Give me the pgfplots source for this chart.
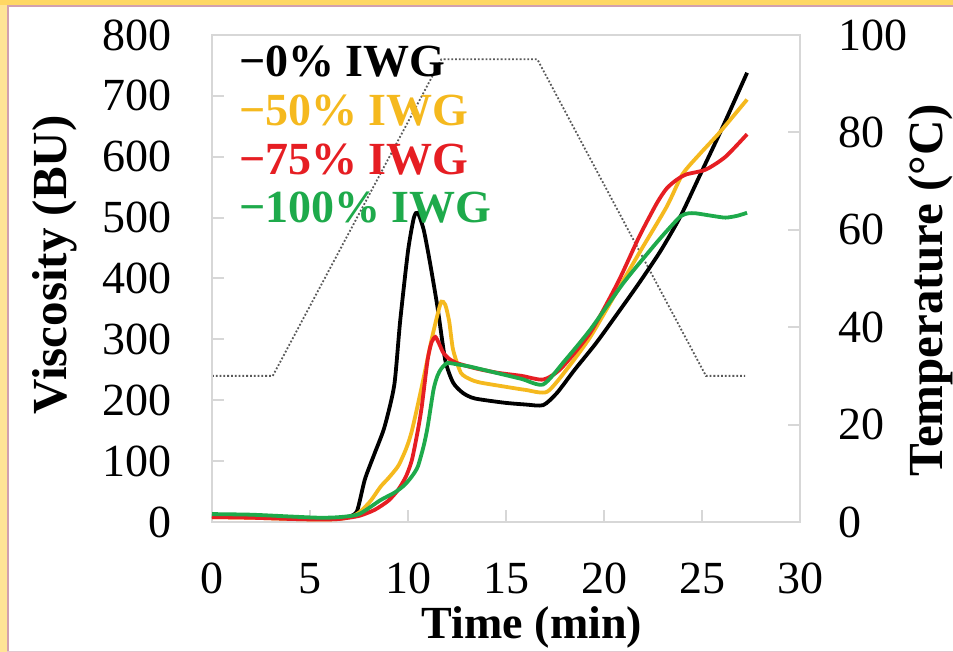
\documentclass[border=0pt]{standalone}
\usepackage{pgfplots}
\pgfplotsset{compat=1.18}
\usepackage{fontspec}
\setmainfont{Liberation Serif}
\definecolor{cblack}{RGB}{0,0,0}
\definecolor{cyellow}{RGB}{245,185,30}
\definecolor{cred}{RGB}{230,30,35}
\definecolor{cgreen}{RGB}{30,170,75}
\definecolor{frame}{RGB}{215,215,215}
\definecolor{goldA}{RGB}{255,215,100}
\definecolor{goldB}{RGB}{255,228,150}
\definecolor{pinkl}{RGB}{210,160,175}
\begin{document}
\begin{tikzpicture}
\useasboundingbox (0,0) rectangle (476.5pt,326pt);
\fill[white] (0,0) rectangle (476.5pt,326pt);
% frame strips
\fill[goldB] (0,0) rectangle (3.5pt,326pt);
\fill[goldA] (0,323.5pt) rectangle (476.5pt,326pt);
\fill[pinkl] (3.5pt,0) rectangle (4.6pt,323.5pt);
\fill[pinkl] (3.5pt,322.4pt) rectangle (476.5pt,323.5pt);
\fill[pinkl!60] (3.5pt,0) rectangle (476.5pt,0.7pt);
\pgfplotsset{
  every axis/.append style={
    scale only axis, width=294pt, height=243.5pt,
    at={(106pt,65pt)}, anchor=south west,
    xmin=0, xmax=30,
    axis line style={draw=frame, line width=1pt},
    tick style={draw=frame, line width=1pt},
    major tick length=6pt, tick align=inside,
    ticklabel style={font=\fontsize{23}{27}\selectfont},
    /pgf/number format/assume math mode=true,
    /pgf/number format/1000 sep={},
  }
}
% temperature axis
\begin{axis}[
  axis x line=none,
  axis y line*=right,
  ymin=0, ymax=100,
  ytick={0,20,40,60,80,100},
  yticklabel style={anchor=west, inner sep=0pt, xshift=19pt},
  ylabel={\fontsize{24.5}{28}\bfseries Temperature (°C)},
  ylabel style={at={(axis description cs:1.222,0.476)}, anchor=center},
]
\addplot[densely dotted, line width=0.9pt, black!65] coordinates {
(0,30)(3.1,30)(11.7,95)(16.6,95)(25.2,30)(27.2,30)};
\end{axis}
% viscosity axis
\begin{axis}[
  ymin=0, ymax=800,
  ytick={0,100,...,800},
  xtick={0,5,...,30},
  ytick pos=left, xtick pos=bottom,
  yticklabel style={anchor=east, inner sep=0pt, xshift=-20pt},
  xticklabel style={anchor=north, inner sep=0pt, yshift=-20.5pt},
  xlabel={\fontsize{23}{27}\bfseries Time (min)},
  xlabel style={at={(axis description cs:0.5,0)}, anchor=north, inner sep=0pt, yshift=-42pt, xshift=13pt},
  ylabel={\fontsize{24.5}{28}\bfseries Viscosity (BU)},
  ylabel style={at={(axis description cs:-0.267,0.528)}, anchor=center},
  legend image code/.code={},
  legend cell align=left,
  legend style={at={(0.046,0.9795)}, anchor=north west, draw=none, fill=none,
    inner sep=0pt, outer sep=0pt, row sep=8.3pt, column sep=0pt,
    nodes={inner sep=0pt, text height=16pt, text depth=0pt, font=\fontsize{23}{27}\bfseries}},
]
\addplot[cblack, line width=1.9pt, smooth, tension=0.4] coordinates {
(0,10)(2,9)(4,7)(5.5,5)(6.5,6)(7.0,9)(7.4,18)(7.8,70)(8.3,113)(8.8,156)(9.3,225)(9.6,330)(10.0,445)(10.3,500)(10.5,508)(10.8,480)(11.1,430)(11.5,354)(11.9,266)(12.3,229)(12.8,212)(13.4,203)(14.9,196)(16.0,193)(16.9,192)(17.6,212)(18.5,250)(19.6,294)(20.7,343)(21.8,393)(22.9,446)(23.9,502)(24.9,570)(26.0,645)(27.3,738)};
\addlegendentry{\textcolor{cblack}{−0\% IWG}}
\addplot[cyellow, line width=1.9pt, smooth, tension=0.4] coordinates {
(0,8)(2,7)(4,5)(5.5,4)(6.5,5)(7.2,10)(7.6,18)(8.1,35)(8.6,58)(9.0,72)(9.5,92)(9.9,120)(10.2,150)(10.7,222)(11.2,299)(11.5,340)(11.7,362)(11.9,357)(12.1,330)(12.3,283)(12.7,245)(13.2,234)(13.7,229)(15.0,222)(16.0,217)(17.1,214)(18.2,255)(19.3,304)(20.5,370)(21.8,442)(23.2,518)(24.0,571)(24.9,605)(25.9,640)(27.3,694)};
\addlegendentry{\textcolor{cyellow}{−50\% IWG}}
\addplot[cred, line width=1.9pt, smooth, tension=0.4] coordinates {
(0,8)(2,7)(4,5)(5.5,4)(6.5,5)(7.5,10)(8.3,20)(9.0,35)(9.5,53)(9.9,75)(10.2,102)(10.5,150)(10.7,189)(11.0,266)(11.2,295)(11.4,304)(11.6,292)(11.8,278)(12.1,268)(12.5,261)(13.5,252)(14.6,245)(15.8,240)(16.9,234)(17.8,252)(19.3,311)(20.7,393)(21.8,469)(22.7,524)(23.2,548)(23.7,562)(24.2,571)(25.2,579)(26.2,600)(27.3,637)};
\addlegendentry{\textcolor{cred}{−75\% IWG}}
\addplot[cgreen, line width=1.9pt, smooth, tension=0.4] coordinates {
(0,13)(2,12)(4,9)(5.5,7)(6.5,8)(7.5,13)(8.6,36)(9.3,48)(9.8,60)(10.2,75)(10.5,91)(10.8,125)(11.0,156)(11.3,217)(11.5,240)(11.7,252)(12.0,261)(12.5,259)(13.2,255)(14.5,245)(15.8,235)(16.9,226)(18.0,265)(19.3,316)(21.0,393)(22.5,452)(23.2,478)(23.9,502)(24.3,507)(24.7,507)(25.5,503)(26.2,500)(26.8,503)(27.3,508)};
\addlegendentry{\textcolor{cgreen}{−100\% IWG}}
\end{axis}
\end{tikzpicture}
\end{document}
